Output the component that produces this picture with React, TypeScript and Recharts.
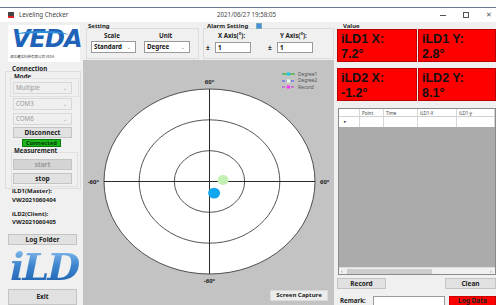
import React from 'react';
import { ScatterChart, Scatter, XAxis, YAxis, ReferenceArea, ReferenceLine } from 'recharts';

// polar grid rings (degrees) and the axis limit
const ringRadii = [60, 40, 20];
const axisLimit = 60;

// readings plotted on the level view
const degree1X = [2.6];
const degree1Y = [-7.5];
const degree2X = [7.7];
const degree2Y = [1.0];

const legendNames = ['Degree1', 'Degree2', 'Record'];
const legendLine = ['#33b033', '#4a4aff', '#cc33cc'];
const legendDot = ['#19c8f0', '#e8ffe0', '#ff33ff'];

const valueLabels = ['iLD1 X:', 'iLD1 Y:', 'iLD2 X:', 'iLD2 Y:'];
const valueTexts = ['7.2°', '2.8°', '-1.2°', '8.1°'];

const tableCols = ['Point', 'Time', 'iLD1-X', 'iLD1-y'];

const toPoints = (xs: number[], ys: number[]) => xs.map((x, i) => ({ x, y: ys[i] }));

const FONT = '"Noto Sans", "DejaVu Sans", sans-serif';

const Abs: React.FC<{ x: number; y: number; w?: number; h?: number; style?: React.CSSProperties; children?: React.ReactNode }> = ({ x, y, w, h, style, children }) => (
  <div style={{ position: 'absolute', left: x, top: y, width: w, height: h, boxSizing: 'border-box', ...style }}>{children}</div>
);

const Btn: React.FC<{ x: number; y: number; w: number; h: number; text: string; disabled?: boolean; bg?: string }> = ({ x, y, w, h, text, disabled, bg }) => (
  <Abs x={x} y={y} w={w} h={h} style={{
    background: bg || (disabled ? '#d4d4d4' : '#e1e1e1'), border: '1px solid ' + (bg ? '#c00' : '#c4c4c4'),
    fontSize: 6.5, fontWeight: 700, color: disabled ? '#999' : '#222', textAlign: 'center', lineHeight: h - 2 + 'px',
  }}>{text}</Abs>
);

const Combo: React.FC<{ x: number; y: number; w: number; h: number; text: string; disabled?: boolean }> = ({ x, y, w, h, text, disabled }) => (
  <Abs x={x} y={y} w={w} h={h} style={{
    background: disabled ? '#efefef' : '#fff', border: '1px solid ' + (disabled ? '#d8d8d8' : '#9a9a9a'),
    fontSize: 6.2, fontWeight: disabled ? 400 : 700, color: disabled ? '#9a9a9a' : '#111', lineHeight: h - 2 + 'px', paddingLeft: 2,
  }}>
    {text}
    <span style={{ position: 'absolute', right: 4, top: 0, color: '#999', fontSize: 5 }}>⌄</span>
  </Abs>
);

const Txt: React.FC<{ x: number; y: number; text: string; size?: number; bold?: boolean; color?: string; center?: boolean; w?: number }> = ({ x, y, text, size = 6.2, bold, color = '#222', center, w }) => (
  <Abs x={x} y={y} w={w} style={{ fontSize: size, fontWeight: bold ? 700 : 400, color, lineHeight: 1, whiteSpace: 'nowrap', textAlign: center ? 'center' : 'left' }}>{text}</Abs>
);

const ringShape = (fill: string) => (props: any) => {
  const { x, y, width, height } = props;
  return <ellipse cx={x + width / 2} cy={y + height / 2} rx={width / 2} ry={height / 2} fill={fill} stroke="#2a2a2a" strokeWidth={0.8} />;
};

const dotShape = (fill: string, r: number) => (props: any) => (
  <ellipse cx={props.cx} cy={props.cy} rx={r} ry={r * 0.9} fill={fill} />
);

const labelStyle = { fontSize: 6, fill: '#222', fontWeight: 700 };

const LevelChart: React.FC = () => (
  <ScatterChart width={251} height={245} margin={{ top: 29, right: 19, bottom: 31, left: 21 }}>
    <XAxis type="number" dataKey="x" domain={[-axisLimit, axisLimit]} hide />
    <YAxis type="number" dataKey="y" domain={[-axisLimit, axisLimit]} hide />
    {ringRadii.map((r, i) => (
      <ReferenceArea key={r} x1={-r} x2={r} y1={-r} y2={r} shape={ringShape(i === 0 ? '#fff' : 'none')} />
    ))}
    <ReferenceLine x={0} stroke="#222" strokeWidth={0.8} label={{ value: `${axisLimit}°`, position: 'top', ...labelStyle }} />
    <ReferenceLine x={0} stroke="#222" strokeWidth={0.8} label={{ value: `-${axisLimit}°`, position: 'bottom', ...labelStyle }} />
    <ReferenceLine y={0} stroke="#222" strokeWidth={0.8} label={{ value: `-${axisLimit}°`, position: 'left', ...labelStyle }} />
    <ReferenceLine y={0} stroke="#222" strokeWidth={0.8} label={{ value: `${axisLimit}°`, position: 'right', ...labelStyle }} />
    <Scatter name="Degree1" data={toPoints(degree1X, degree1Y)} shape={dotShape('#12a6ee', 6)} isAnimationActive={false} />
    <Scatter name="Degree2" data={toPoints(degree2X, degree2Y)} shape={dotShape('#c4f0b6', 5.6)} isAnimationActive={false} />
    <Scatter name="Record" data={[]} isAnimationActive={false} />
  </ScatterChart>
);

const App: React.FC = () => {
  return (
    <div style={{ position: 'fixed', left: 0, top: 0, width: 496, height: 305, background: '#f0f0f0', overflow: 'hidden', fontFamily: FONT }}>
      {/* title bar */}
      <Abs x={0} y={0} w={496} h={22} style={{ background: '#fff' }} />
      <Abs x={0} y={7} w={496} h={1} style={{ background: '#6a7894' }} />
      <Abs x={8} y={12} w={6} h={6} style={{ background: '#444', borderBottom: '2px solid #d22' }} />
      <Txt x={19} y={12} text="Leveling Checker" size={6.2} color="#444" />
      <Txt x={217} y={12} text="2021/06/27 19:58:05" size={6.2} color="#444" />
      <Abs x={440} y={15} w={6} h={1} style={{ background: '#555' }} />
      <Abs x={463} y={12} w={6} h={6} style={{ border: '1px solid #555' }} />
      <Txt x={486} y={11} text="✕" size={7} color="#555" />

      {/* logo */}
      <Abs x={8} y={25} w={72} h={37} style={{ background: '#fff' }}>
        <div style={{ position: 'absolute', left: 4, top: 2, fontSize: 24, fontWeight: 900, fontStyle: 'italic', color: '#1e63b8', letterSpacing: -1, fontFamily: '"DejaVu Sans", sans-serif', lineHeight: 1 }}>
          VEDA
        </div>
        <div style={{ position: 'absolute', left: 8, top: 6, width: 52, height: 6, borderTop: '2px solid #2c8fd8', borderRadius: '50% 50% 0 0' }} />
        <div style={{ position: 'absolute', left: 2, top: 29, fontSize: 3.5, color: '#333', fontFamily: '"Noto Sans CJK SC", sans-serif', whiteSpace: 'nowrap' }}>
          湖北耀达科技有限公司 VEDA
        </div>
      </Abs>

      {/* setting group */}
      <Abs x={86} y={28} w={113} h={31} style={{ border: '1px solid #dcdcdc' }} />
      <Txt x={88} y={23} text="Setting" size={6} bold />
      <Txt x={104} y={33} text="Scale" size={6.2} bold />
      <Txt x={159} y={33} text="Unit" size={6.2} bold />
      <Combo x={91} y={41} w={45} h={12} text="Standard" />
      <Combo x={144} y={41} w={46} h={12} text="Degree" />

      {/* alarm setting */}
      <Abs x={203} y={28} w={131} h={31} style={{ border: '1px solid #dcdcdc' }} />
      <Txt x={207} y={23} text="Alarm Setting" size={6} bold />
      <Abs x={256} y={23} w={6} h={6} style={{ background: '#4a90e2', border: '1px solid #7ab' }} />
      <Txt x={218} y={33} text="X Axis(°):" size={6.2} bold />
      <Txt x={280} y={33} text="Y Axis(°):" size={6.2} bold />
      <Txt x={206} y={45} text="±" size={6.5} bold />
      <Txt x={268} y={45} text="±" size={6.5} bold />
      <Abs x={215} y={42} w={36} h={11} style={{ background: '#fff', border: '1px solid #9a9a9a', fontSize: 6.2, fontWeight: 700, paddingLeft: 2, lineHeight: '9px' }}>1</Abs>
      <Abs x={277} y={42} w={36} h={11} style={{ background: '#fff', border: '1px solid #9a9a9a', fontSize: 6.2, fontWeight: 700, paddingLeft: 2, lineHeight: '9px' }}>1</Abs>

      {/* value boxes */}
      <Txt x={343} y={23} text="Value" size={6} bold />
      {valueLabels.map((lab, i) => (
        <Abs key={lab} x={i % 2 === 0 ? 337 : 418} y={i < 2 ? 29 : 68} w={i % 2 === 0 ? 80 : 78} h={33} style={{ background: '#ff0000', border: '1px solid #b00', padding: '2px 0 0 3px', fontFamily: '"Liberation Sans", Arial, sans-serif' }}>
          <div style={{ fontSize: 12.5, fontWeight: 700, color: '#111', lineHeight: '15px', whiteSpace: 'nowrap' }}>{lab}</div>
          <div style={{ fontSize: 12.5, fontWeight: 700, color: '#111', lineHeight: '15px', whiteSpace: 'nowrap' }}>{valueTexts[i]}</div>
        </Abs>
      ))}

      {/* left panel */}
      <Abs x={5} y={71} w={76} h={118} style={{ border: '1px solid #dcdcdc' }} />
      <Txt x={12} y={66} text="Connection" size={6.2} bold />
      <Txt x={14} y={74} text="Mode" size={6.2} bold />
      <Abs x={10} y={78} w={69} h={19} style={{ border: '1px solid #e0e0e0' }} />
      <Combo x={13} y={82} w={59} h={12} text="Multiple" disabled />
      <Combo x={13} y={98} w={59} h={12} text="COM3" disabled />
      <Combo x={13} y={113} w={59} h={12} text="COM6" disabled />
      <Btn x={13} y={127} w={59} h={11} text="Disconnect" />
      <Abs x={22} y={139} w={39} h={8} style={{ background: '#1db51d', border: '1px solid #0a7a0a', fontSize: 5.8, fontWeight: 700, color: '#063806', textAlign: 'center', lineHeight: '6px' }}>Connected</Abs>
      <Abs x={11} y={152} w={67} h={35} style={{ border: '1px solid #e0e0e0' }} />
      <Txt x={14} y={148} text="Measurement" size={6.2} bold />
      <Btn x={13} y={159} w={59} h={11} text="start" disabled />
      <Btn x={13} y={173} w={59} h={11} text="stop" />
      <Txt x={12} y={188} text="iLD1(Master):" size={6} bold />
      <Txt x={12} y={196.5} text="VW2021060404" size={6} bold />
      <Txt x={12} y={210.5} text="iLD2(Client):" size={6} bold />
      <Txt x={12} y={219} text="VW2021060405" size={6} bold />
      <Btn x={8} y={234} w={69} h={11} text="Log Folder" />
      <Abs x={10} y={248} w={70} h={38} style={{
        fontSize: 38, fontWeight: 700, fontStyle: 'italic', fontFamily: '"DejaVu Serif", serif', lineHeight: '38px', letterSpacing: -2,
        background: 'linear-gradient(180deg, #8cc0ec 0%, #3f86cf 45%, #1c5fae 100%)', WebkitBackgroundClip: 'text', backgroundClip: 'text', color: 'transparent',
      }}>iLD</Abs>
      <Btn x={8} y={289} w={69} h={16} text="Exit" />

      {/* chart area */}
      <Abs x={83} y={60} w={251} h={245} style={{ background: '#c3c3c3' }}>
        <LevelChart />
        <div style={{ position: 'absolute', left: 199, top: 11 }}>
          {legendNames.map((name, i) => (
            <div key={name} style={{ position: 'relative', height: 6.5, width: 50 }}>
              <svg width={14} height={6} style={{ position: 'absolute', left: 0, top: 0 }}>
                <line x1={0} y1={3} x2={13} y2={3} stroke={legendLine[i]} strokeWidth={1.2} strokeDasharray={i === 0 ? undefined : '3 1.5'} />
                <rect x={5} y={1.5} width={3} height={3} fill={legendDot[i]} />
              </svg>
              <span style={{ position: 'absolute', left: 16, top: 0.5, fontSize: 4.8, color: '#555', lineHeight: 1 }}>{name}</span>
            </div>
          ))}
        </div>
        <Abs x={187} y={230} w={58} h={11} style={{ background: '#ececec', border: '1px solid #dadada', fontSize: 6, fontWeight: 700, color: '#222', textAlign: 'center', lineHeight: '9px' }}>Screen Capture</Abs>
      </Abs>

      {/* table */}
      <Abs x={338} y={108} w={158} h={167} style={{ background: '#ababab', border: '1px solid #8a8a8a' }}>
        <Abs x={0} y={0} w={156} h={8} style={{ background: '#fff', borderBottom: '1px solid #d0d0d0' }} />
        <Abs x={0} y={8} w={156} h={10} style={{ background: '#fff' }} />
        {[20, 44, 78, 117, 155].map((cx) => (
          <Abs key={cx} x={cx} y={0} w={1} h={18} style={{ background: '#d6d6d6' }} />
        ))}
        {tableCols.map((c, i) => (
          <Txt key={c} x={[23, 47, 81, 120][i]} y={1.5} text={c} size={4.5} color="#444" />
        ))}
        <Txt x={5} y={10} text="▸" size={4.5} color="#333" />
        <Abs x={0} y={158} w={156} h={7} style={{ background: '#f0f0f0', borderTop: '1px solid #ddd' }}>
          <Abs x={8} y={1} w={85} h={5} style={{ background: '#cdcdcd' }} />
          <Txt x={2} y={1} text="‹" size={5} color="#666" />
          <Txt x={151} y={1} text="›" size={5} color="#666" />
        </Abs>
      </Abs>
      <Btn x={337} y={278} w={49} h={11} text="Record" />
      <Btn x={445} y={278} w={51} h={11} text="Clean" />
      <Txt x={340} y={298} text="Remark:" size={6.2} bold />
      <Abs x={373} y={296} w={72} h={10} style={{ background: '#fff', border: '1px solid #9a9a9a' }} />
      <Btn x={449} y={296} w={47} h={10} text="Log Data" bg="#ff0000" />
    </div>
  );
};

export default App;
